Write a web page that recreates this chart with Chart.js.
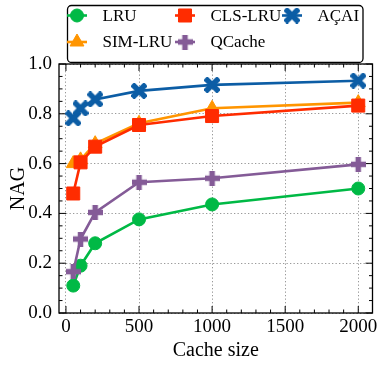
<!DOCTYPE html>
<html><head><meta charset="utf-8">
<script src="https://cdn.jsdelivr.net/npm/chart.js@4.4.0/dist/chart.umd.min.js"></script>
<style>html,body{margin:0;padding:0;background:#fff;}canvas{display:block;}</style>
</head><body>
<canvas id="c" width="383" height="365"></canvas>
<script>
// ---- data ----
const cacheSizes = [50, 100, 200, 500, 1000, 2000];
const seriesNames = ['LRU', 'SIM-LRU', 'CLS-LRU', 'QCache', 'AÇAI'];
const lruValues    = [0.110, 0.190, 0.280, 0.376, 0.436, 0.500];
const simLruValues = [0.600, 0.615, 0.680, 0.762, 0.822, 0.845];
const clsLruValues = [0.480, 0.605, 0.668, 0.755, 0.791, 0.833];
const qcacheValues = [0.166, 0.297, 0.404, 0.525, 0.541, 0.597];
const acaiValues   = [0.782, 0.822, 0.858, 0.892, 0.916, 0.933];
const xTickValues = [0, 500, 1000, 1500, 2000];
const xTickLabels = ['0', '500', '1000', '1500', '2000'];
const yTickLabels = ['0.0', '0.2', '0.4', '0.6', '0.8', '1.0'];
const seriesColors = ['#00B945', '#FF9500', '#FF2C00', '#845B97', '#0C5DA5'];

const FONT = "'Liberation Serif', 'Times New Roman', serif";

function plusImage(color, size, thick, rot) {
  const c = document.createElement('canvas');
  c.width = size; c.height = size;
  const g = c.getContext('2d');
  g.fillStyle = color;
  g.translate(size / 2, size / 2);
  g.rotate(rot);
  const L = rot ? size * 1.2 : size;
  g.fillRect(-L / 2, -thick / 2, L, thick);
  g.fillRect(-thick / 2, -L / 2, thick, L);
  return c;
}
const qcacheMarker = plusImage(seriesColors[3], 15, 5.5, 0);
const acaiMarker = plusImage(seriesColors[4], 16, 5.5, Math.PI / 4);

const styles = [
  {pointStyle: 'circle', pointRadius: 6.5},
  {pointStyle: 'triangle', pointRadius: 8},
  {pointStyle: 'rect', pointRadius: 9.2},
  {pointStyle: qcacheMarker, pointRadius: 8},
  {pointStyle: acaiMarker, pointRadius: 8}
];
const allValues = [lruValues, simLruValues, clsLruValues, qcacheValues, acaiValues];

const datasets = allValues.map((vals, i) => ({
  label: seriesNames[i],
  data: cacheSizes.map((x, j) => ({x: x, y: vals[j]})),
  borderColor: seriesColors[i],
  backgroundColor: seriesColors[i],
  pointBackgroundColor: seriesColors[i],
  pointBorderColor: seriesColors[i],
  pointBorderWidth: 1,
  borderWidth: 2.6,
  pointStyle: styles[i].pointStyle,
  pointRadius: styles[i].pointRadius,
  pointHoverRadius: styles[i].pointRadius,
  order: 4 - i,
  clip: false,
  tension: 0
}));

const frameTicks = {
  id: 'frameTicks',
  beforeDatasetsDraw(chart) {
    const {ctx, chartArea: a, scales: {x, y}} = chart;
    ctx.save();
    ctx.strokeStyle = '#000';
    ctx.lineWidth = 1;
    const seg = (x1, y1, x2, y2) => { ctx.beginPath(); ctx.moveTo(x1, y1); ctx.lineTo(x2, y2); ctx.stroke(); };
    for (let v = 0; v <= 2000; v += 100) {
      const px = x.getPixelForValue(v);
      const L = xTickValues.includes(v) ? 7 : 3.5;
      seg(px, a.bottom, px, a.bottom - L);
      seg(px, a.top, px, a.top + L);
    }
    for (let i = 0; i <= 20; i++) {
      const py = y.getPixelForValue(i * 0.05);
      const L = i % 4 === 0 ? 7 : 3.5;
      seg(a.left, py, a.left + L, py);
      seg(a.right, py, a.right - L, py);
    }
    ctx.lineWidth = 1.3;
    ctx.strokeRect(a.left, a.top, a.right - a.left, a.bottom - a.top);
    ctx.restore();
  }
};

const legendBox = {
  id: 'legendBox',
  afterDraw(chart) {
    const ctx = chart.ctx;
    ctx.save();
    ctx.beginPath();
    ctx.roundRect(67.5, 5.5, 295.5, 57, 4);
    ctx.fillStyle = '#fff';
    ctx.fill();
    ctx.lineWidth = 1.3;
    ctx.strokeStyle = '#000';
    ctx.stroke();
    const pos = [[77, 15.5], [77, 42], [185, 15.5], [185, 42], [292, 15.5]];
    ctx.font = '17px ' + FONT;
    ctx.textBaseline = 'middle';
    chart.data.datasets.forEach((ds, i) => {
      const [mx, my] = pos[i];
      ctx.strokeStyle = ds.borderColor;
      ctx.lineWidth = 2.6;
      ctx.beginPath(); ctx.moveTo(mx - 10, my); ctx.lineTo(mx + 10, my); ctx.stroke();
      ctx.fillStyle = ds.backgroundColor;
      ctx.lineWidth = 1;
      Chart.helpers.drawPoint(ctx, {pointStyle: ds.pointStyle, radius: ds.pointRadius, rotation: 0, borderWidth: 1}, mx, my);
      ctx.fillStyle = '#000';
      ctx.fillText(ds.label, mx + 25.5, my + 1);
    });
    ctx.restore();
  }
};

new Chart(document.getElementById('c'), {
  type: 'line',
  data: {datasets: datasets},
  options: {
    responsive: false,
    animation: false,
    devicePixelRatio: 1,
    layout: {padding: {top: 64, right: 10.5, left: 0, bottom: 0}},
    plugins: {legend: {display: false}, tooltip: {enabled: false}},
    scales: {
      x: {
        type: 'linear',
        min: -47.5, max: 2097.5,
        afterFit: s => { s.height = 52; },
        afterBuildTicks: s => { s.ticks = xTickValues.map(v => ({value: v})); },
        ticks: {color: '#000', font: {family: FONT, size: 19}, padding: 3, maxRotation: 0, includeBounds: false,
                callback: (v, i) => xTickLabels[i]},
        grid: {drawTicks: false, color: '#999', lineWidth: 1},
        border: {display: false, dash: [1.3, 2.2]},
        title: {display: true, text: 'Cache size', color: '#000', font: {family: FONT, size: 20}, padding: {top: 0, bottom: 2}}
      },
      y: {
        min: 0, max: 1,
        afterFit: s => { s.width = 59; },
        afterBuildTicks: s => { s.ticks = yTickLabels.map(t => ({value: parseFloat(t)})); },
        ticks: {color: '#000', font: {family: FONT, size: 19}, padding: 7,
                callback: (v, i) => yTickLabels[i]},
        grid: {drawTicks: false, color: '#999', lineWidth: 1},
        border: {display: false, dash: [1.3, 2.2]},
        title: {display: true, text: 'NAG', color: '#000', font: {family: FONT, size: 20}, padding: {top: 7, bottom: 0}}
      }
    }
  },
  plugins: [frameTicks, legendBox]
});
</script>
</body></html>
